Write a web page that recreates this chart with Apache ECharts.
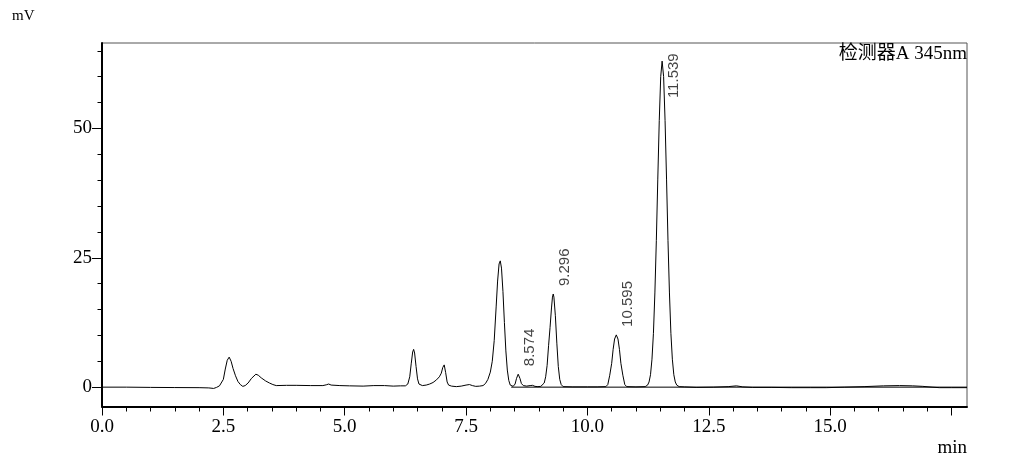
<!DOCTYPE html>
<html>
<head>
<meta charset="utf-8">
<script src="https://cdn.jsdelivr.net/npm/echarts@6/dist/echarts.min.js"></script>
<style>
html,body{margin:0;padding:0;background:#fff;}
#chart{width:1009px;height:459px;}
</style>
</head>
<body>
<div id="chart"></div>
<script>
// ---- data ----
const time = [
  0.00,0.50,1.00,1.50,2.00,2.20,2.30,2.36,2.42,2.46,2.50,2.54,2.58,2.62,2.66,2.70,2.75,2.80,2.85,2.90,
  2.95,3.01,3.08,3.17,3.22,3.28,3.37,3.45,3.52,3.59,3.80,4.00,4.30,4.55,4.62,4.67,4.72,4.90,5.10,5.38,
  5.60,5.82,6.00,6.15,6.25,6.30,6.34,6.37,6.40,6.42,6.44,6.47,6.50,6.53,6.57,6.60,6.68,6.75,6.82,6.89,
  6.95,6.99,7.02,7.05,7.08,7.11,7.14,7.20,7.30,7.40,7.50,7.57,7.63,7.70,7.78,7.85,7.90,7.95,8.00,8.04,
  8.08,8.12,8.15,8.18,8.205,8.23,8.26,8.29,8.32,8.35,8.38,8.41,8.44,8.47,8.51,8.54,8.574,8.61,8.64,8.68,
  8.75,8.82,8.87,8.92,8.98,9.04,9.08,9.11,9.14,9.17,9.20,9.23,9.26,9.28,9.296,9.31,9.34,9.37,9.40,9.43,
  9.46,9.50,9.70,10.00,10.20,10.38,10.42,10.46,10.50,10.53,10.56,10.595,10.63,10.66,10.69,10.73,10.77,10.81,11.00,11.19,
  11.24,11.27,11.30,11.33,11.36,11.39,11.42,11.45,11.48,11.51,11.539,11.57,11.60,11.63,11.66,11.69,11.72,11.75,11.78,11.81,
  11.84,11.89,12.00,12.24,12.60,12.90,13.07,13.20,13.40,13.80,14.20,14.60,14.92,15.30,15.70,16.10,16.43,16.70,16.91,17.10,
  17.25,17.50,17.82
];
const signal = [
  0.00,0.00,-0.05,-0.08,-0.10,-0.15,-0.25,-0.05,0.25,0.40,1.50,3.50,5.20,5.80,5.00,3.60,2.20,1.10,0.50,0.15,
  0.30,0.80,1.70,2.50,2.30,1.80,1.20,0.80,0.50,0.30,0.35,0.35,0.30,0.30,0.45,0.60,0.40,0.30,0.25,0.20,
  0.30,0.30,0.20,0.25,0.25,0.60,2.00,4.50,6.80,7.30,6.60,4.00,1.60,0.60,0.30,0.30,0.40,0.60,0.90,1.40,
  2.00,2.70,3.80,4.30,2.80,1.00,0.40,0.20,0.10,0.20,0.40,0.50,0.30,0.15,0.20,0.30,0.70,1.50,2.90,5.00,
  9.00,15.50,20.50,23.80,24.40,23.00,18.50,12.50,7.00,3.30,1.30,0.40,0.10,0.15,0.60,1.70,2.50,1.70,0.70,0.30,
  0.20,0.30,0.35,0.15,0.10,0.15,0.30,0.80,2.00,4.20,8.00,11.50,15.30,17.40,18.00,17.40,13.80,8.50,4.00,1.50,
  0.50,0.10,0.05,0.05,0.05,0.10,0.50,2.30,4.60,7.30,9.30,10.10,9.30,7.30,4.60,2.30,0.50,0.10,0.05,0.10,
  0.40,1.00,2.40,5.40,10.40,18.20,28.30,40.20,51.50,60.00,63.00,60.00,51.50,40.20,28.30,18.20,10.40,5.40,2.40,1.00,
  0.40,0.10,0.05,-0.05,0.00,0.10,0.25,0.05,-0.05,-0.05,-0.10,-0.10,-0.10,0.00,0.10,0.25,0.30,0.25,0.15,0.00,
  -0.10,-0.10,-0.10
];
// integration baseline drawn under the labelled peaks
const baselineTime = [8.43, 17.82];
const baselineValue = [0, 0];
// labelled peaks (retention time, apex height)
const peakTimes = [8.574, 9.296, 10.595, 11.539];
const peakHeights = [2.5, 18.0, 10.1, 63.0];
// axes
const xMin = 0, xMax = 17.82;
const yMin = -3.74, yMax = 66.5;
const xMajorTicks = [0, 2.5, 5, 7.5, 10, 12.5, 15, 17.5];
const xLabelTicks = [0, 2.5, 5, 7.5, 10, 12.5, 15];
const xMinorTicks = [0,0.5,1,1.5,2,2.5,3,3.5,4,4.5,5,5.5,6,6.5,7,7.5,8,8.5,9,9.5,10,10.5,11,11.5,12,12.5,13,13.5,14,14.5,15,15.5,16,16.5,17,17.5];
const yMajorTicks = [0, 25, 50];
const yMinorTicks = [0,5,10,15,20,25,30,35,40,45,50,55,60,65];
const titleText = '检测器A 345nm';
const yUnit = 'mV';
const xUnit = 'min';

// ---- chart ----
const traceData = time.map((t, i) => [t, signal[i]]);
const baseData = baselineTime.map((t, i) => [t, baselineValue[i]]);
const peakData = peakTimes.map((t, i) => [t, peakHeights[i]]);

const serif = "'Liberation Serif', 'Noto Sans CJK SC', serif";
const chart = echarts.init(document.getElementById('chart'), null, {renderer: 'canvas'});
const axisFont = {fontFamily: serif, fontSize: 19, color: '#000'};

chart.setOption({
  animation: false,
  backgroundColor: '#fff',
  title: [
    {text: titleText, right: 37, top: 40, padding: 5, textStyle: {fontFamily: serif, fontSize: 19, fontWeight: 'normal', color: '#000'}},
    {text: yUnit, left: 7, top: 4, padding: 5, textStyle: {fontFamily: serif, fontSize: 15, fontWeight: 'normal', color: '#000'}},
    {text: xUnit, right: 37, top: 434, padding: 5, textStyle: {fontFamily: serif, fontSize: 19, fontWeight: 'normal', color: '#000'}}
  ],
  grid: {left: 102, right: 42, top: 43, bottom: 52.5, show: true, borderColor: '#555', borderWidth: 1, backgroundColor: 'transparent'},
  xAxis: [
    {type: 'value', min: xMin, max: xMax, position: 'bottom',
     axisLine: {show: true, onZero: false, lineStyle: {color: '#000', width: 2}},
     axisTick: {show: true, customValues: xMajorTicks, length: 9, lineStyle: {color: '#000', width: 1}},
     axisLabel: {show: true, customValues: xLabelTicks, margin: 11, formatter: v => v.toFixed(1), ...axisFont},
     splitLine: {show: false}},
    {type: 'value', min: xMin, max: xMax, position: 'bottom',
     axisLine: {show: false, onZero: false},
     axisTick: {show: true, customValues: xMinorTicks, length: 5, lineStyle: {color: '#000', width: 1}},
     axisLabel: {show: false},
     splitLine: {show: false}}
  ],
  yAxis: [
    {type: 'value', min: yMin, max: yMax, position: 'left',
     axisLine: {show: true, onZero: false, lineStyle: {color: '#000', width: 2}},
     axisTick: {show: true, customValues: yMajorTicks, length: 10, lineStyle: {color: '#000', width: 1}},
     axisLabel: {show: true, customValues: yMajorTicks, margin: 10, formatter: v => String(v), ...axisFont},
     splitLine: {show: false}},
    {type: 'value', min: yMin, max: yMax, position: 'left',
     axisLine: {show: false, onZero: false},
     axisTick: {show: true, customValues: yMinorTicks, length: 4.5, lineStyle: {color: '#000', width: 1}},
     axisLabel: {show: false},
     splitLine: {show: false}}
  ],
  series: [
    {type: 'line', xAxisIndex: 0, yAxisIndex: 0, data: traceData, showSymbol: false, symbol: 'none',
     lineStyle: {color: '#000', width: 1}, silent: true},
    {type: 'line', xAxisIndex: 0, yAxisIndex: 0, data: baseData, showSymbol: false, symbol: 'none',
     lineStyle: {color: '#000', width: 1}, silent: true},
    {type: 'scatter', xAxisIndex: 0, yAxisIndex: 0, symbolSize: 1, itemStyle: {color: 'rgba(0,0,0,0)'},
     data: peakData.map((d, i) => {
       const item = {value: d};
       if (i === 3) item.label = {offset: [-37, 12]};
       return item;
     }),
     label: {show: true, rotate: 90, position: 'inside', align: 'left', verticalAlign: 'middle',
       offset: [8, 12], formatter: p => p.value[0].toFixed(3),
       fontFamily: "'Liberation Sans', Arial, sans-serif", fontSize: 15, color: '#111'}}
  ]
});
</script>
</body>
</html>
